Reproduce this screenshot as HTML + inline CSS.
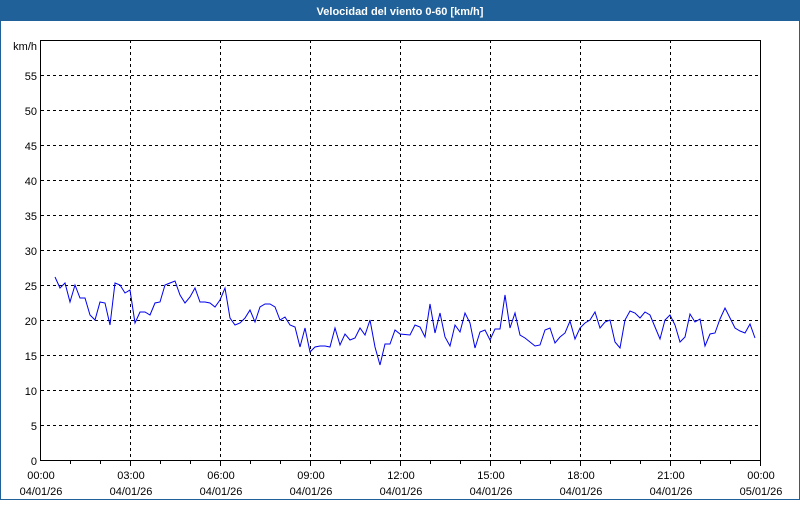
<!DOCTYPE html>
<html><head><style>
body{margin:0;width:800px;height:500px;overflow:hidden;background:#fff;font-family:"Liberation Sans",sans-serif}
</style></head><body>
<svg width="800" height="500" xmlns="http://www.w3.org/2000/svg" font-family="Liberation Sans, sans-serif" font-size="11">
<rect x="0" y="0" width="800" height="500" fill="#fff"/>
<rect x="0" y="0" width="800" height="21" fill="#1f6198"/>
<rect x="0.5" y="0.5" width="799" height="499" fill="none" stroke="#1f6198"/>
<text x="400" y="15" fill="#fff" font-weight="bold" text-anchor="middle">Velocidad del viento 0-60 [km/h]</text>
<g stroke="#000" stroke-dasharray="3,3" stroke-width="1">
<line x1="41" x2="761" y1="75.5" y2="75.5"/><line x1="41" x2="761" y1="110.5" y2="110.5"/><line x1="41" x2="761" y1="145.5" y2="145.5"/><line x1="41" x2="761" y1="180.5" y2="180.5"/><line x1="41" x2="761" y1="215.5" y2="215.5"/><line x1="41" x2="761" y1="250.5" y2="250.5"/><line x1="41" x2="761" y1="285.5" y2="285.5"/><line x1="41" x2="761" y1="320.5" y2="320.5"/><line x1="41" x2="761" y1="355.5" y2="355.5"/><line x1="41" x2="761" y1="390.5" y2="390.5"/><line x1="41" x2="761" y1="425.5" y2="425.5"/>
<line x1="130.5" x2="130.5" y1="40" y2="460"/><line x1="220.5" x2="220.5" y1="40" y2="460"/><line x1="310.5" x2="310.5" y1="40" y2="460"/><line x1="400.5" x2="400.5" y1="40" y2="460"/><line x1="490.5" x2="490.5" y1="40" y2="460"/><line x1="580.5" x2="580.5" y1="40" y2="460"/><line x1="670.5" x2="670.5" y1="40" y2="460"/>
</g>
<rect x="40.5" y="40.5" width="720" height="420" fill="none" stroke="#000"/>
<g stroke="#000">
<line x1="70.5" x2="70.5" y1="460" y2="464"/><line x1="100.5" x2="100.5" y1="460" y2="464"/><line x1="130.5" x2="130.5" y1="460" y2="466"/><line x1="160.5" x2="160.5" y1="460" y2="464"/><line x1="190.5" x2="190.5" y1="460" y2="464"/><line x1="220.5" x2="220.5" y1="460" y2="466"/><line x1="250.5" x2="250.5" y1="460" y2="464"/><line x1="280.5" x2="280.5" y1="460" y2="464"/><line x1="310.5" x2="310.5" y1="460" y2="466"/><line x1="340.5" x2="340.5" y1="460" y2="464"/><line x1="370.5" x2="370.5" y1="460" y2="464"/><line x1="400.5" x2="400.5" y1="460" y2="466"/><line x1="430.5" x2="430.5" y1="460" y2="464"/><line x1="460.5" x2="460.5" y1="460" y2="464"/><line x1="490.5" x2="490.5" y1="460" y2="466"/><line x1="520.5" x2="520.5" y1="460" y2="464"/><line x1="550.5" x2="550.5" y1="460" y2="464"/><line x1="580.5" x2="580.5" y1="460" y2="466"/><line x1="610.5" x2="610.5" y1="460" y2="464"/><line x1="640.5" x2="640.5" y1="460" y2="464"/><line x1="670.5" x2="670.5" y1="460" y2="466"/><line x1="700.5" x2="700.5" y1="460" y2="464"/><line x1="730.5" x2="730.5" y1="460" y2="464"/><line x1="760.5" x2="760.5" y1="460" y2="466"/>
</g>
<g fill="#000" text-anchor="end">
<text x="37" y="50">km/h</text>
<text x="37" y="80">55</text><text x="37" y="115">50</text><text x="37" y="150">45</text><text x="37" y="185">40</text><text x="37" y="220">35</text><text x="37" y="255">30</text><text x="37" y="290">25</text><text x="37" y="325">20</text><text x="37" y="360">15</text><text x="37" y="395">10</text><text x="37" y="430">5</text><text x="37" y="465">0</text>
</g>
<g fill="#000" text-anchor="middle">
<text x="41" y="479">00:00</text><text x="41" y="495">04/01/26</text>
<text x="131" y="479">03:00</text><text x="131" y="495">04/01/26</text>
<text x="221" y="479">06:00</text><text x="221" y="495">04/01/26</text>
<text x="311" y="479">09:00</text><text x="311" y="495">04/01/26</text>
<text x="401" y="479">12:00</text><text x="401" y="495">04/01/26</text>
<text x="491" y="479">15:00</text><text x="491" y="495">04/01/26</text>
<text x="581" y="479">18:00</text><text x="581" y="495">04/01/26</text>
<text x="671" y="479">21:00</text><text x="671" y="495">04/01/26</text>
<text x="761" y="479">00:00</text><text x="761" y="495">05/01/26</text>
</g>
<polyline fill="none" stroke="#0000ee" stroke-width="1" points="55,277 60,288 65,283 70,302 75,285 80,298 85,298 90,315 95,320 100,302 105,303 110,325 115,283 120,285 125,293 130,290 135,323 140,312 145,312 150,315 155,303 160,302 165,285 170,283 175,281 180,295 185,303 190,297 195,288 200,302 205,302 210,303 215,307 220,300 225,288 230,318 235,325 240,323 245,318 250,310 255,322 260,307 265,304 270,304 275,307 280,320 285,317 290,325 295,327 300,347 305,328 310,352 315,347 320,346 325,346 330,347 335,328 340,345 345,334 350,340 355,338 360,328 365,335 370,320 375,347 380,365 385,344 390,344 395,330 400,334 410,335 415,325 420,327 425,337 430,304 435,333 440,313 445,337 450,346 455,325 460,332 465,313 470,323 475,348 480,332 485,330 490,340 495,329 500,329 505,295 510,328 515,313 520,335 525,338 530,342 535,346 540,345 545,330 550,328 555,343 560,337 565,333 570,321 575,339 580,328 585,323 590,320 595,312 600,328 605,322 610,320 615,342 620,348 625,320 630,311 635,313 640,318 645,312 650,315 655,327 660,339 665,320 670,315 675,325 680,342 685,337 690,314 695,322 700,319 705,346 710,334 715,333 720,319 725,308 730,318 735,328 740,331 745,333 750,324 755,338"/>
</svg>
</body></html>
